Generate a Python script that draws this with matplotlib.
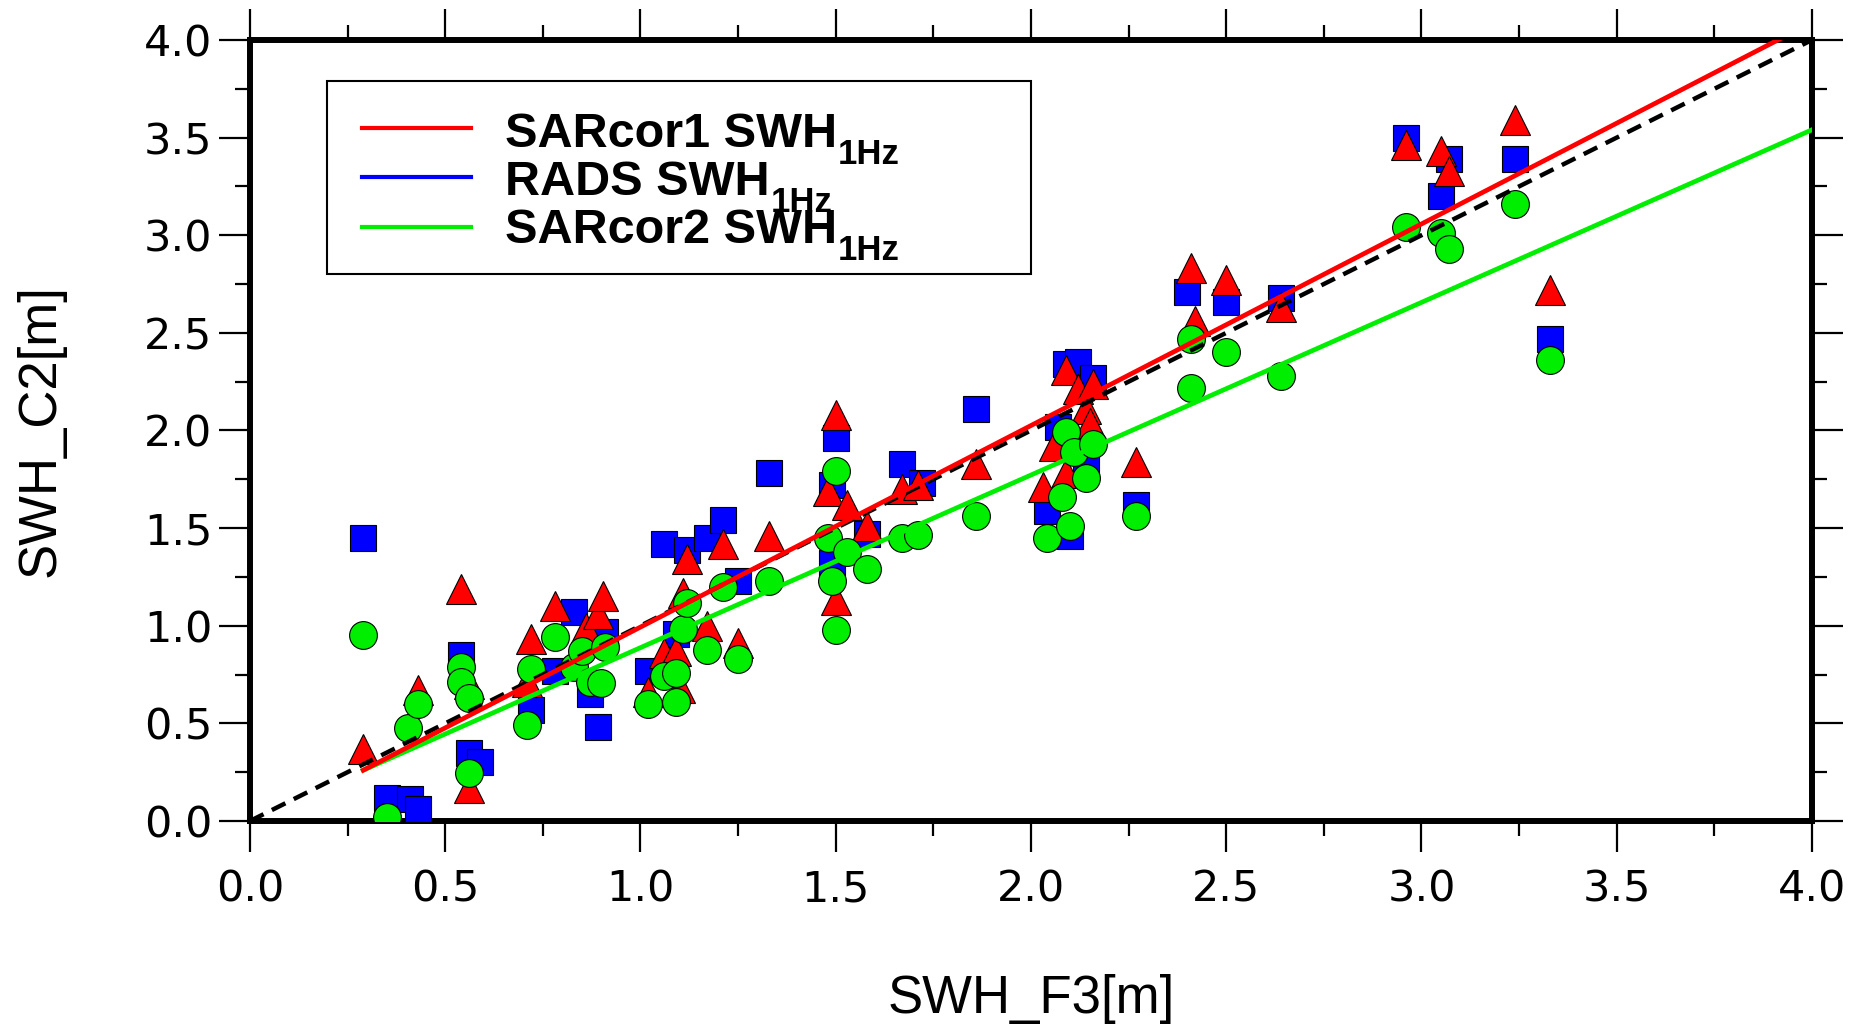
import numpy as np
import matplotlib
matplotlib.use("Agg")
import matplotlib.pyplot as plt
from matplotlib.patches import Rectangle
from matplotlib.lines import Line2D

# SARcor1 SWH 1Hz (red triangles)
tri_x = [0.29, 0.43, 0.54, 0.56, 0.56, 0.71, 0.72, 0.78, 0.86, 0.89,
         0.905, 1.02, 1.06, 1.09, 1.10, 1.11, 1.12, 1.17, 1.21, 1.25,
         1.33, 1.48, 1.50, 1.50, 1.53, 1.58, 1.67, 1.71, 1.86, 2.03,
         2.06, 2.09, 2.09, 2.12, 2.14, 2.15, 2.16, 2.27, 2.41, 2.42,
         2.50, 2.64, 2.96, 3.05, 3.07, 3.24, 3.33]
tri_y = [0.37, 0.67, 1.19, 0.70, 0.17, 0.71, 0.93, 1.10, 0.99, 1.06,
         1.15, 0.66, 0.86, 0.87, 0.68, 1.17, 1.34, 1.00, 1.42, 0.91,
         1.46, 1.69, 2.08, 1.13, 1.62, 1.51, 1.70, 1.72, 1.83, 1.71,
         1.92, 1.78, 2.31, 2.21, 2.11, 2.04, 2.24, 1.84, 2.83, 2.56,
         2.77, 2.63, 3.46, 3.43, 3.33, 3.59, 2.72]

# RADS SWH 1Hz (blue squares)
sq_x = [0.29, 0.35, 0.41, 0.43, 0.54, 0.56, 0.59, 0.72, 0.78, 0.83,
        0.87, 0.89, 0.91, 1.02, 1.06, 1.09, 1.12, 1.17, 1.21, 1.25,
        1.33, 1.49, 1.49, 1.50, 1.58, 1.67, 1.72, 1.86, 2.04, 2.07,
        2.09, 2.10, 2.12, 2.14, 2.16, 2.27, 2.40, 2.50, 2.64, 2.96,
        3.05, 3.07, 3.24, 3.33]
sq_y = [1.45, 0.12, 0.11, 0.06, 0.85, 0.35, 0.30, 0.57, 0.77, 1.07,
        0.65, 0.48, 0.97, 0.77, 1.42, 0.96, 1.39, 1.45, 1.54, 1.23,
        1.78, 1.32, 1.72, 1.96, 1.47, 1.83, 1.73, 2.11, 1.59, 2.02,
        2.34, 1.46, 2.35, 1.81, 2.27, 1.62, 2.71, 2.66, 2.68, 3.50,
        3.20, 3.39, 3.39, 2.47]

# SARcor2 SWH 1Hz (green circles)
circ_x = [0.29, 0.35, 0.405, 0.43, 0.54, 0.54, 0.56, 0.56, 0.71, 0.72,
          0.78, 0.83, 0.85, 0.87, 0.90, 0.91, 1.02, 1.06, 1.09, 1.09,
          1.11, 1.12, 1.17, 1.21, 1.25, 1.33, 1.48, 1.49, 1.50, 1.50,
          1.53, 1.58, 1.67, 1.71, 1.86, 2.04, 2.08, 2.09, 2.10, 2.11,
          2.14, 2.16, 2.27, 2.41, 2.41, 2.50, 2.64, 2.96, 3.05, 3.07,
          3.24, 3.33]
circ_y = [0.95, 0.02, 0.475, 0.60, 0.79, 0.71, 0.63, 0.245, 0.49, 0.78,
          0.94, 0.79, 0.87, 0.71, 0.705, 0.89, 0.60, 0.74, 0.61, 0.76,
          0.985, 1.115, 0.875, 1.20, 0.83, 1.23, 1.45, 1.23, 1.79, 0.98,
          1.38, 1.29, 1.45, 1.465, 1.56, 1.45, 1.66, 1.99, 1.51, 1.89,
          1.755, 1.93, 1.56, 2.47, 2.22, 2.40, 2.28, 3.04, 3.01, 2.93,
          3.16, 2.36]

# fit lines (end points)
red_fit_x = [0.29, 4.0]
red_fit_y = [0.26, 4.09]
green_fit_x = [0.29, 4.0]
green_fit_y = [0.26, 3.54]
one_to_one = [0.0, 4.0]

legend_labels = ["SARcor1 SWH", "RADS SWH", "SARcor2 SWH"]
legend_sub = "1Hz"

RED = "#ff0000"
BLUE = "#0000ff"
GREEN = "#00ee00"
legend_colors = [RED, BLUE, GREEN]

fig = plt.figure(figsize=(18.63, 10.28), dpi=100)
ax = fig.add_axes([0.1342, 0.2014, 0.8384, 0.7597])

ax.plot(sq_x, sq_y, linestyle="none", marker="s", ms=19,
        mfc=BLUE, mec="black", mew=0.8, zorder=3)
ax.plot(tri_x, tri_y, linestyle="none", marker="^", ms=21.5,
        mfc=RED, mec="black", mew=0.8, zorder=4)
ax.plot(circ_x, circ_y, linestyle="none", marker="o", ms=20,
        mfc=GREEN, mec="black", mew=0.8, zorder=5)

ax.plot(one_to_one, one_to_one, color="black", lw=3.2,
        dashes=(3.4, 2.1), zorder=6)
ax.plot(green_fit_x, green_fit_y, color=GREEN, lw=3.4, zorder=7)
ax.plot(red_fit_x, red_fit_y, color=RED, lw=3.4, zorder=8)

ax.set_xlim(0, 4)
ax.set_ylim(0, 4)
ax.set_xticks(np.arange(0, 4.01, 0.5))
ax.set_yticks(np.arange(0, 4.01, 0.5))
ax.set_xticks(np.arange(0, 4.01, 0.25), minor=True)
ax.set_yticks(np.arange(0, 4.01, 0.25), minor=True)
ax.xaxis.set_major_formatter(plt.FormatStrFormatter("%.1f"))
ax.yaxis.set_major_formatter(plt.FormatStrFormatter("%.1f"))

for s in ax.spines.values():
    s.set_linewidth(4.3)
ax.tick_params(which="both", direction="out", top=True, right=True,
               width=1.6)
ax.tick_params(which="major", length=22)
ax.tick_params(which="minor", length=11)
ax.tick_params(axis="y", which="major", pad=5, labelsize=31)
ax.tick_params(axis="x", which="major", pad=12, labelsize=31)
for lab in ax.get_xticklabels() + ax.get_yticklabels():
    lab.set_family("DejaVu Sans")

ax.set_xlabel("SWH_F3[m]", fontsize=38, family="Liberation Sans")
ax.set_ylabel("SWH_C2[m]", fontsize=38, family="Liberation Sans")
ax.xaxis.set_label_coords(0.5, -0.196)
ax.yaxis.set_label_coords(-0.118, 0.5)

# legend box drawn by hand so the rows sit as tight as in the original
ax.add_patch(Rectangle((0.049, 0.700), 0.451, 0.2475, transform=ax.transAxes,
                       facecolor="white", edgecolor="black", lw=1.5,
                       zorder=10))
line_rows = [0.887, 0.824, 0.761]
text_rows = [0.863, 0.8015, 0.740]
for lbl, col, ly, ty in zip(legend_labels, legend_colors, line_rows, text_rows):
    ax.add_line(Line2D([0.0715, 0.1415], [ly, ly], transform=ax.transAxes,
                       color=col, lw=3, zorder=11))
    t = ax.text(0.163, ty, lbl, transform=ax.transAxes,
                fontsize=35, fontweight="bold", family="Liberation Sans",
                va="baseline", ha="left", zorder=12)
    # subscript set low: in the original it runs into the next row
    ax.annotate(legend_sub, xy=(1, 0), xycoords=t, xytext=(1, -5),
                textcoords="offset points", fontsize=25, fontweight="bold",
                family="Liberation Sans", va="baseline", ha="left",
                zorder=13)

fig.savefig("out.png", dpi=100)
